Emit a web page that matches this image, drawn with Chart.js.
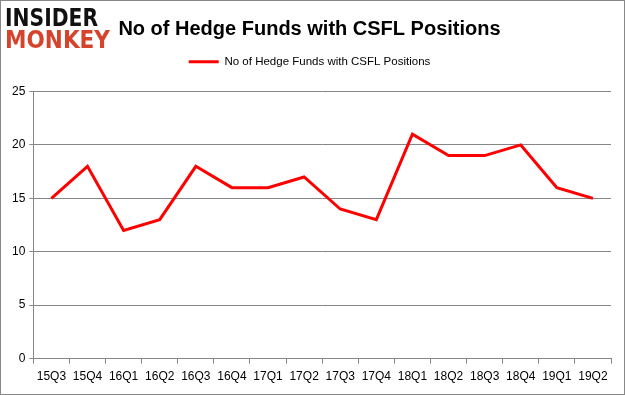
<!DOCTYPE html>
<html>
<head>
<meta charset="utf-8">
<script src="https://cdn.jsdelivr.net/npm/chart.js@4/dist/chart.umd.min.js"></script>
<style>
html,body{margin:0;padding:0;background:#fff;}
#wrap{width:625px;height:395px;position:relative;}
canvas{display:block;}
</style>
</head>
<body>
<div id="wrap"><canvas id="c" width="625" height="395"></canvas></div>
<script>
const categories = ["15Q3","15Q4","16Q1","16Q2","16Q3","16Q4","17Q1","17Q2","17Q3","17Q4","18Q1","18Q2","18Q3","18Q4","19Q1","19Q2"];
const hedgeFunds = [15,18,12,13,18,16,16,17,14,13,21,19,19,20,16,15];
const seriesLabel = "No of Hedge Funds with CSFL Positions";
const chartTitle = "No of Hedge Funds with CSFL Positions";
const yTicks = [0,5,10,15,20,25];
const logoTop = "INSIDER";
const logoBottom = "MONKEY";

const legendMargin = {
  id: 'legendMargin',
  beforeInit(chart) {
    const fit = chart.legend.fit;
    chart.legend.fit = function () {
      fit.bind(chart.legend)();
      this.height += 14;
    };
  }
};

const decor = {
  id: 'decor',
  beforeDraw(chart) {
    const ctx = chart.ctx;
    ctx.save();
    ctx.fillStyle = '#fff';
    ctx.fillRect(0, 0, chart.width, chart.height);
    ctx.restore();
  },
  afterDraw(chart) {
    const ctx = chart.ctx;
    ctx.save();
    ctx.strokeStyle = '#888';
    ctx.lineWidth = 1;
    ctx.strokeRect(0.5, 0.5, chart.width - 1, chart.height - 1);
    ctx.textBaseline = 'alphabetic';
    ctx.textAlign = 'left';
    ctx.font = 'bold 24px "DejaVu Sans"';
    let m = ctx.measureText(logoTop);
    let capH = m.actualBoundingBoxAscent;
    ctx.save();
    ctx.translate(5, 26);
    ctx.scale(93 / m.width, 19 / capH);
    ctx.fillStyle = '#111';
    ctx.fillText(logoTop, 0, 0);
    ctx.restore();
    m = ctx.measureText(logoBottom);
    capH = m.actualBoundingBoxAscent;
    ctx.save();
    ctx.translate(5, 48);
    ctx.scale(105 / m.width, 19 / capH);
    ctx.fillStyle = '#d6432d';
    ctx.fillText(logoBottom, 0, 0);
    ctx.restore();
    ctx.restore();
  }
};

new Chart(document.getElementById('c'), {
  type: 'line',
  data: {
    labels: categories,
    datasets: [{
      label: seriesLabel,
      data: hedgeFunds,
      borderColor: '#ff0000',
      backgroundColor: '#ff0000',
      borderWidth: 3,
      pointRadius: 0,
      pointHoverRadius: 0,
      tension: 0,
      fill: false
    }]
  },
  options: {
    responsive: false,
    animation: false,
    layout: { padding: { left: 8, right: 14, top: 0, bottom: 5 } },
    plugins: {
      title: {
        display: true,
        text: chartTitle,
        color: '#000',
        font: { family: '"Liberation Sans"', size: 20, weight: 'bold' },
        padding: { top: 17, bottom: 5 }
      },
      legend: {
        display: true,
        labels: {
          color: '#000',
          font: { family: '"Liberation Sans"', size: 11.5 },
          boxWidth: 30,
          boxHeight: 3,
          padding: 10,
          generateLabels(chart) {
            const ds = chart.data.datasets[0];
            return [{ text: ds.label, fillStyle: '#ff0000', strokeStyle: '#ff0000', lineWidth: 0, datasetIndex: 0 }];
          }
        }
      },
      tooltip: { enabled: false }
    },
    scales: {
      x: {
        offset: true,
        grid: { display: true, drawOnChartArea: false, drawTicks: true, tickLength: 5, offset: true, color: '#868686' },
        border: { display: true, color: '#868686', width: 1 },
        ticks: { color: '#000', font: { family: '"Liberation Sans"', size: 12 }, padding: 6, maxRotation: 0, autoSkip: false }
      },
      y: {
        min: 0, max: 25,
        afterBuildTicks(axis) { axis.ticks = yTicks.map(v => ({ value: v })); },
        grid: { color: '#868686', drawTicks: true, tickLength: 4 },
        border: { display: true, color: '#868686', width: 1 },
        ticks: { color: '#000', font: { family: '"Liberation Sans"', size: 12 }, padding: 4, stepSize: 5 }
      }
    }
  },
  plugins: [legendMargin, decor]
});
</script>
</body>
</html>
